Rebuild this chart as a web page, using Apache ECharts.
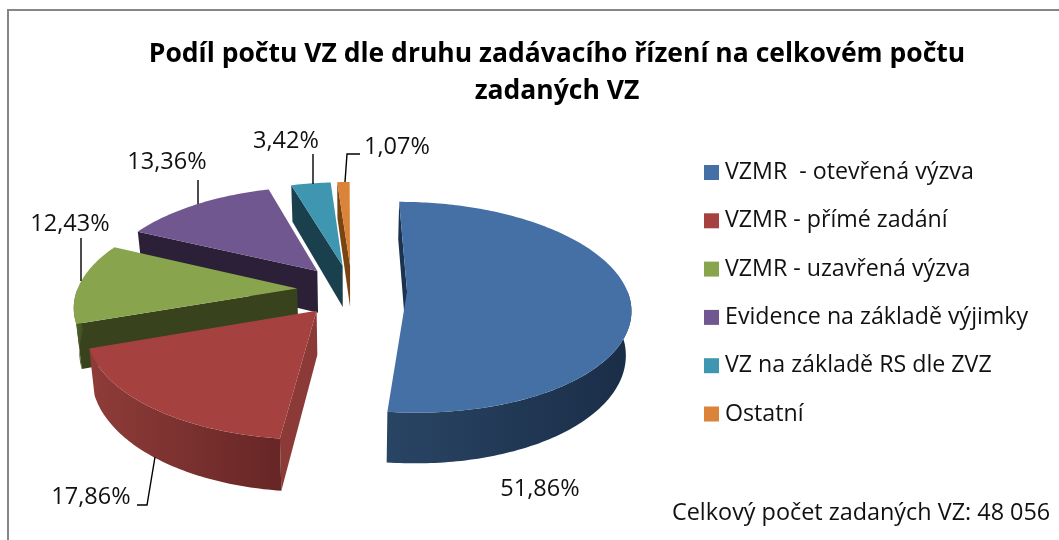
<!DOCTYPE html>
<html><head><meta charset="utf-8">
<script src="https://cdn.jsdelivr.net/npm/echarts@6/dist/echarts.min.js"></script>
<style>html,body{margin:0;padding:0;background:#fff}#c{width:1059px;height:540px}</style>
</head><body><div id="c"></div>
<script>
const categories = ['VZMR  - otevřená výzva','VZMR - přímé zadání','VZMR - uzavřená výzva','Evidence na základě výjimky','VZ na základě RS dle ZVZ','Ostatní'];
const shares = [51.86,17.86,12.43,13.36,3.42,1.07];
const totalLabel = 'Celkový počet zadaných VZ: 48 056';
const titleText = 'Podíl počtu VZ dle druhu zadávacího řízení na celkovém počtu\nzadaných VZ';

const faceColors = ['#4570A6','#A5423F','#88A54E','#71578F','#3F96B0','#DC833A'];
const sideColors = ['#1B3250','#8C3A37','#38421C','#2B2038','#1A3F4D','#7A4312'];
const rimColors = [['#294564','#1A2D47'],['#8F3C39','#662625'],['#56692E','#3F4D20'],['#3F3156','#2B2038'],['#24566A','#1A3F4D'],['#8A4A18','#7A4312']];
const FONT = '"Open Sans"';

const view = {cx:352, cy:290, rx:220, ry:102.6, persp:0.15, depth:43, baseScale:0.98, explode:0.25, rotation:-0.2};
const labelSpots = [
  {x:540,y:489,line:null},
  {x:91,y:497,line:[[137,505],[147,505],[155,457]]},
  {x:70,y:224,line:[[81,238],[81,281]]},
  {x:167,y:162,line:[[198,180],[198,204]]},
  {x:286,y:141,line:[[313,154],[313,184]]},
  {x:397,y:147,line:[[360,154],[347,154],[345,182]]}
];
const sum = shares.reduce((a,b)=>a+b,0);
function angles(i){
  let s = 0; for(let k=0;k<i;k++) s += shares[k];
  return [view.rotation + s/sum*360, view.rotation + (s+shares[i])/sum*360];
}
function project(X,Z){
  const g = 1/(1+view.persp*Z);
  return {x:view.cx+view.rx*X*g, y:view.cy-view.ry*Z*g, g};
}
const top_ = p => [p.x,p.y];
const low_ = p => [view.cx+(p.x-view.cx)*view.baseScale, p.y+view.depth*p.g];
const rad = d => d*Math.PI/180;

function renderSlice(params, api){
  const i = params.seriesIndex;
  if (!api.value(0)) return;
  const [a0,a1] = angles(i);
  const mid = rad((a0+a1)/2);
  const ex = view.explode*Math.sin(mid), ez = view.explode*Math.cos(mid);
  const at = d => project(ex+Math.sin(rad(d)), ez+Math.cos(rad(d)));
  const apex = project(ex,ez);
  const z = Math.round((1-ez)*100);
  const arc = [];
  const n = Math.max(2,Math.ceil(a1-a0));
  for(let k=0;k<=n;k++) arc.push(at(a0+(a1-a0)*k/n));
  const children = [];
  const first = arc[0];
  children.push({type:'polygon',z2:z,shape:{points:[top_(first),top_(apex),low_(apex),low_(first)]},
    style:{fill:sideColors[i]},silent:true});
  const rimFrom = Math.max(a0,90), rimTo = Math.min(a1,270);
  if (rimTo>rimFrom){
    const rim=[]; const m=Math.ceil(rimTo-rimFrom);
    for(let k=0;k<=m;k++) rim.push(at(rimFrom+(rimTo-rimFrom)*k/m));
    const pts = rim.map(top_).concat(rim.slice().reverse().map(low_));
    children.push({type:'polygon',z2:z+1,shape:{points:pts},silent:true,
      style:{fill:new echarts.graphic.LinearGradient(0,0,1,0,[
        {offset:0,color:rimColors[i][0]},{offset:1,color:rimColors[i][1]}])}});
  }
  children.push({type:'polygon',z2:z+2,shape:{points:[top_(apex)].concat(arc.map(top_))},
    style:{fill:faceColors[i]},silent:true});
  const spot = labelSpots[i];
  if (spot.line) children.push({type:'polyline',z2:500,shape:{points:spot.line},
    style:{stroke:'#000',lineWidth:1.4,fill:null},silent:true});
  children.push({type:'text',z2:501,silent:true,style:{x:spot.x,y:spot.y,
    text:api.value(0).toFixed(2).replace('.',',')+'%',fill:'#111',
    font:'23.5px '+FONT,align:'center',verticalAlign:'middle',textAlign:'center',textVerticalAlign:'middle'}});
  return {type:'group',children};
}

const chart = echarts.init(document.getElementById('c'),null,{renderer:'canvas'});
chart.setOption({
  animation:false,
  backgroundColor:'#fff',
  title:{text:titleText,left:552,top:31,textAlign:'center',
    textStyle:{fontFamily:FONT,fontWeight:'bold',fontSize:26.5,lineHeight:37,color:'#000'}},
  legend:{orient:'vertical',left:699,top:153,icon:'rect',itemWidth:15,itemHeight:15,itemGap:19.3,
    data:categories,selectedMode:false,
    textStyle:{fontFamily:FONT,fontSize:23.2,color:'#111',lineHeight:29,padding:[0,0,0,1]}},
  graphic:[
    {type:'polyline',shape:{points:[[8,540],[8,10],[1059,10]]},style:{stroke:'#868686',lineWidth:2,fill:null},silent:true},
    {type:'text',left:672,top:502,silent:true,style:{text:totalLabel,font:'23.4px '+FONT,fill:'#111'}}
  ],
  series:categories.map((name,i)=>({
    type:'custom',name,coordinateSystem:'none',renderItem:renderSlice,
    itemStyle:{color:faceColors[i]},clip:false,silent:true,
    data:[[shares[i]]]
  }))
});
</script></body></html>
